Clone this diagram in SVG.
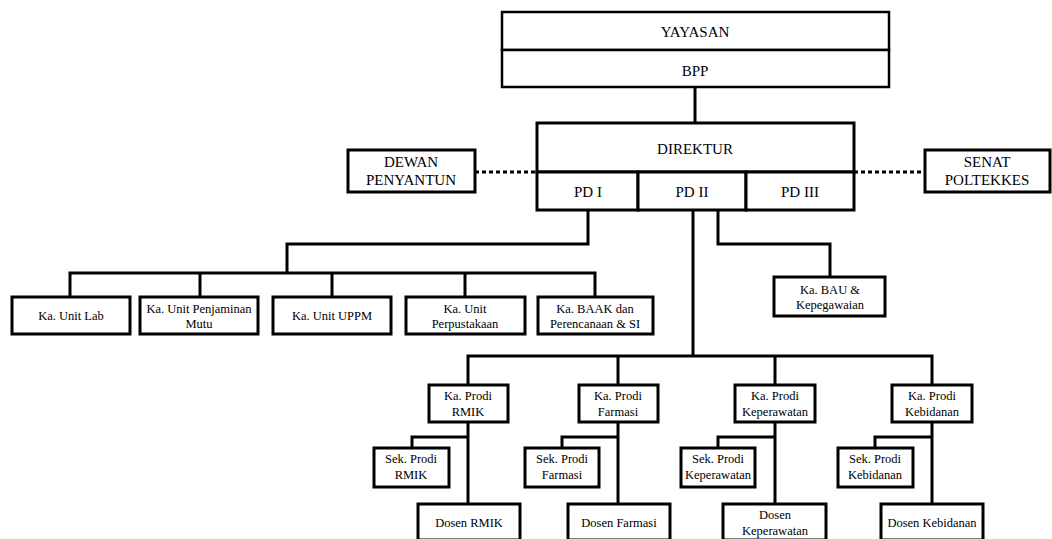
<svg xmlns="http://www.w3.org/2000/svg" width="1052" height="539" viewBox="0 0 1052 539">
<style>
.b{fill:#fff;stroke:#000;stroke-width:3}
.tb{fill:#fff;stroke:#000;stroke-width:2.5}
.c{fill:none;stroke:#000;stroke-width:3}
.d{fill:none;stroke:#000;stroke-width:3;stroke-dasharray:4 3}
text{font-family:"Liberation Serif",Tinos,"Times New Roman",Times,"Noto Serif","DejaVu Serif",serif;fill:#000;text-anchor:middle}
.l{font-size:15px}
.s{font-size:12.5px}
</style>
<rect width="1052" height="539" fill="#fff"/>
<g id="connectors">
<path class="c" d="M695 87V123"/>
<path class="d" d="M475 172H537"/>
<path class="d" d="M854 172H925"/>
<path class="c" d="M588 210V244H287V273"/>
<path class="c" d="M70 297V273H595V297"/>
<path class="c" d="M200 273V297M332 273V297M465 273V297"/>
<path class="c" d="M718 210V244H830V277"/>
<path class="c" d="M693 210V356"/>
<path class="c" d="M468 385V356H932V385"/>
<path class="c" d="M618 356V385M775 356V385"/>
<path class="c" d="M468 422V504M412 448V437H468"/>
<path class="c" d="M618 422V504M562 448V437H618"/>
<path class="c" d="M775 422V504M718 448V437H775"/>
<path class="c" d="M932 422V504M875 448V437H932"/>
</g>
<g id="yayasan"><rect class="tb" x="502" y="12" width="387" height="38"/><text class="l" x="695" y="37">YAYASAN</text></g>
<g id="bpp"><rect class="tb" x="502" y="50" width="387" height="37"/><text class="l" x="695" y="76">BPP</text></g>
<g id="direktur"><rect class="b" x="537" y="123" width="317" height="49"/><text class="l" x="695" y="154">DIREKTUR</text></g>
<g id="pd1"><rect class="b" x="537" y="172" width="101" height="38"/><text class="l" x="588" y="197">PD I</text></g>
<g id="pd2"><rect class="b" x="638" y="172" width="108" height="38"/><text class="l" x="692" y="197">PD II</text></g>
<g id="pd3"><rect class="b" x="746" y="172" width="108" height="38"/><text class="l" x="800" y="197">PD III</text></g>
<g id="dewan"><rect class="b" x="348" y="150" width="127" height="42"/><text class="l" x="411" y="167">DEWAN</text><text class="l" x="411" y="185">PENYANTUN</text></g>
<g id="senat"><rect class="b" x="925" y="150" width="125" height="42"/><text class="l" x="987" y="167">SENAT</text><text class="l" x="987" y="185">POLTEKKES</text></g>
<g id="unitlab"><rect class="b" x="12" y="297" width="118" height="37"/><text class="s" x="71" y="320">Ka. Unit Lab</text></g>
<g id="mutu"><rect class="b" x="140" y="297" width="118" height="37"/><text class="s" x="199" y="313">Ka. Unit Penjaminan</text><text class="s" x="199" y="328">Mutu</text></g>
<g id="uppm"><rect class="b" x="273" y="297" width="118" height="37"/><text class="s" x="332" y="320">Ka. Unit UPPM</text></g>
<g id="perpus"><rect class="b" x="406" y="297" width="119" height="37"/><text class="s" x="465" y="313">Ka. Unit</text><text class="s" x="465" y="328">Perpustakaan</text></g>
<g id="baak"><rect class="b" x="538" y="297" width="115" height="37"/><text class="s" x="595" y="313">Ka. BAAK dan</text><text class="s" x="595" y="328">Perencanaan &amp; SI</text></g>
<g id="bau"><rect class="b" x="774" y="277" width="111" height="39"/><text class="s" x="830" y="294">Ka. BAU &amp;</text><text class="s" x="830" y="309">Kepegawaian</text></g>
<g id="prodi-rmik"><rect class="b" x="429" y="385" width="79" height="37"/><text class="s" x="468" y="400">Ka. Prodi</text><text class="s" x="468" y="416">RMIK</text></g>
<g id="prodi-farmasi"><rect class="b" x="579" y="385" width="79" height="37"/><text class="s" x="618" y="400">Ka. Prodi</text><text class="s" x="618" y="416">Farmasi</text></g>
<g id="prodi-kep"><rect class="b" x="735" y="385" width="80" height="37"/><text class="s" x="775" y="400">Ka. Prodi</text><text class="s" x="775" y="416">Keperawatan</text></g>
<g id="prodi-keb"><rect class="b" x="892" y="385" width="80" height="37"/><text class="s" x="932" y="400">Ka. Prodi</text><text class="s" x="932" y="416">Kebidanan</text></g>
<g id="sek-rmik"><rect class="b" x="374" y="448" width="75" height="39"/><text class="s" x="411" y="463">Sek. Prodi</text><text class="s" x="411" y="479">RMIK</text></g>
<g id="sek-farmasi"><rect class="b" x="525" y="448" width="74" height="39"/><text class="s" x="562" y="463">Sek. Prodi</text><text class="s" x="562" y="479">Farmasi</text></g>
<g id="sek-kep"><rect class="b" x="681" y="448" width="74" height="39"/><text class="s" x="718" y="463">Sek. Prodi</text><text class="s" x="718" y="479">Keperawatan</text></g>
<g id="sek-keb"><rect class="b" x="838" y="448" width="75" height="39"/><text class="s" x="875" y="463">Sek. Prodi</text><text class="s" x="875" y="479">Kebidanan</text></g>
<g id="dosen-rmik"><rect class="b" x="418" y="504" width="102" height="36"/><text class="s" x="469" y="527">Dosen RMIK</text></g>
<g id="dosen-farmasi"><rect class="b" x="568" y="504" width="102" height="36"/><text class="s" x="619" y="527">Dosen Farmasi</text></g>
<g id="dosen-kep"><rect class="b" x="723" y="504" width="103" height="36"/><text class="s" x="775" y="519">Dosen</text><text class="s" x="775" y="535">Keperawatan</text></g>
<g id="dosen-keb"><rect class="b" x="881" y="504" width="102" height="36"/><text class="s" x="932" y="527">Dosen Kebidanan</text></g>
</svg>
